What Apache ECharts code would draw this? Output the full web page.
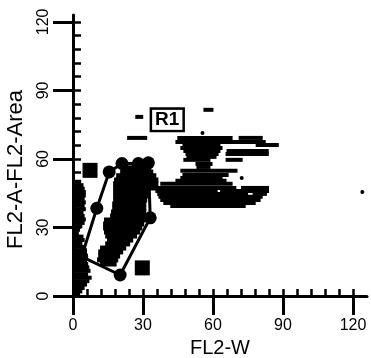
<!DOCTYPE html>
<html>
<head>
<meta charset="utf-8">
<script src="https://cdn.jsdelivr.net/npm/echarts@6/dist/echarts.min.js"></script>
<style>html,body{margin:0;padding:0;background:#fff}#c{width:371px;height:358px}</style>
</head>
<body>
<div id="c"></div>
<script>
// ---- data (FL2-W, FL2-A) ----
const xTickLabels = [0, 30, 60, 90, 120];
const yTickLabels = [0, 30, 60, 90, 120];
const minorStep = 6;

// events near the axis (row segments: [xStart, xEnd, y])
const axisColumnRows = [
  [0.5,3.5,50],[0.5,4.5,48.5],[0.5,5,47],[0.5,5.5,45.5],[0.5,5.5,44],[0.5,5,42.5],[0.5,5.5,41],
  [0.5,5,39.5],[0.5,5.5,38],[0.5,4.5,36.5],[0.5,5,35],[0.5,5.5,33.5],[0.5,5,32],[0.5,4,30.5],
  [0.5,3,29],[0.5,2.5,27.5],[0.5,4.5,26],[0.5,5,24.5],[0.5,4,23],[0.5,5.5,21.5],[0.5,6,20],
  [0.5,5,18.5],[0.5,5.5,17],[0.5,6,15.5],[0.5,6.5,14],[0.5,7,12.5],[0.5,7.5,11],[0.5,6.5,9.5],
  [0.5,8,8],[0.5,7,6.5],[0.5,6,5],[0.5,5,3.5],[0.5,4,2],[0.5,3,0.5]
];

// dense population inside the gate
const gatedRows = [
  [21.1,33.5,56.1],[20.2,34.4,54.3],[18.5,35.7,52.6],[17.6,36.6,50.8],[17.2,36.6,49.1],
  [17.2,35.7,47.3],[17.2,33.1,45.6],[17.2,32.3,43.8],[17.2,31.8,42.0],[16.8,31.4,40.3],
  [16.8,31.4,38.5],[16.3,31.4,36.8],[15.9,30.9,35.0],[13.3,30.9,33.3],[12.9,30.5,31.5],
  [12.9,29.7,29.8],[13.3,28.8,28.0],[13.8,27.5,26.3],[14.6,25.8,24.5],[13.8,24.5,22.8],
  [11.6,22.8,21.0],[10.8,21.5,19.3],[10.8,20.2,17.5],[10.3,19.4,15.8],[11.6,18.7,14.0]
];

// doublet streaks to the right
const streakRows = [
  [55.9,60.2,81.5],[26.7,30.1,78.4],
  [23.2,31.8,69.2],[44.7,68.4,69.2],[71,81.3,69.2],
  [43.9,82.6,67.4],
  [46.9,63.2,66.1],[78.3,88.2,66.1],
  [46,64.1,64.8],
  [47.3,63.2,63.5],[65.8,83.9,63.5],
  [48.2,62.4,62.2],[65.4,83.9,62.2],
  [48.6,61.5,60.9],
  [47.3,58.9,59.6],[65.4,72.7,59.6],
  [52.5,59.8,57.8],[52.9,58.9,56.5],
  [46,70.5,54.8],[46.9,66.7,53.0],
  [46,64.1,51.7],
  [43.9,65.8,50.4],[37.4,68.4,49.1],
  [34.4,70,47.3],[72,84,47.3],
  [35.3,62,46.0],[63,84,46.0],
  [36.1,75,44.7],[77,83.1,44.7],
  [36.6,81.3,43.4],[37.4,80.4,42.0],[38.7,78.3,40.7],[41.7,74,39.4]
];

const singleEvents = [[55.5,71.4],[72.3,51.7],[124,45.5]];
const squareMarks = [[7.3,55],[29.7,12.3]];

// gate R1 polygon vertices
const gateR1 = [[3.7,17.2],[10.2,38.4],[15.5,54.3],[21,58],[28,58],[32.3,58.3],[33.1,34.2],[20.2,9.2]];
const gateLabel = [[40.4,77.1,'R1']];

// ---- chart ----
const minorTicks = [];
for (let v = 0; v <= 120; v += minorStep) minorTicks.push(v);

const chart = echarts.init(document.getElementById('c'), null, {renderer:'canvas'});
const font = 'Liberation Sans, Arial, sans-serif';

function makeRender(h) {
  return function (params, api) {
    const a = api.coord([api.value(0), api.value(2)]);
    const b = api.coord([api.value(1), api.value(2)]);
    return {type:'rect', shape:{x:a[0], y:a[1]-h/2, width:Math.max(b[0]-a[0],2), height:h}, style:{fill:'#000'}};
  };
}
const segSeries = (d, h) => ({type:'custom', renderItem:makeRender(h), data:d, encode:{x:[0,1], y:2}, silent:true, z:2});

chart.setOption({
  animation:false,
  backgroundColor:'#fff',
  grid:{left:73, right:4, top:15, bottom:62, containLabel:false, outerBoundsMode:'none'},
  xAxis:[
    {type:'value', min:0, max:126, interval:30,
     axisLine:{lineStyle:{color:'#000', width:3}},
     axisTick:{customValues:xTickLabels, length:19, lineStyle:{color:'#000', width:3}},
     axisLabel:{customValues:xTickLabels, margin:22, color:'#000', fontSize:16, fontFamily:font},
     splitLine:{show:false},
     name:'FL2-W', nameLocation:'middle', nameGap:39,
     nameTextStyle:{color:'#000', fontSize:20, fontFamily:font}},
    {type:'value', min:0, max:126, interval:30,
     axisLine:{show:false},
     axisTick:{customValues:minorTicks, length:7, lineStyle:{color:'#000', width:2.5}},
     axisLabel:{show:false}, splitLine:{show:false}}
  ],
  yAxis:[
    {type:'value', min:0, max:123, interval:30,
     axisLine:{lineStyle:{color:'#000', width:3}},
     axisTick:{customValues:yTickLabels, length:20, lineStyle:{color:'#000', width:3}},
     axisLabel:{customValues:yTickLabels, rotate:90, margin:21, color:'#000', fontSize:16, fontFamily:font},
     splitLine:{show:false},
     name:'FL2-A-FL2-Area', nameLocation:'middle', nameGap:46,
     nameTextStyle:{color:'#000', fontSize:22, fontFamily:font, padding:[0,28,0,0]}},
    {type:'value', min:0, max:123, interval:30,
     axisLine:{show:false},
     axisTick:{customValues:minorTicks, length:8, lineStyle:{color:'#000', width:2.5}},
     axisLabel:{show:false}, splitLine:{show:false}}
  ],
  series:[
    segSeries(axisColumnRows, 4),
    segSeries(gatedRows, 5),
    segSeries(streakRows, 4),
    {type:'scatter', data:singleEvents, symbol:'circle', symbolSize:4, itemStyle:{color:'#000', opacity:1}, z:3},
    {type:'scatter', data:squareMarks, symbol:'rect', symbolSize:15, itemStyle:{color:'#000', opacity:1}, z:3},
    {type:'line', data:gateR1.concat([gateR1[0]]), symbol:'circle', symbolSize:13, showSymbol:true,
     lineStyle:{color:'#000', width:3}, itemStyle:{color:'#000', opacity:1}, z:4},
    {type:'scatter', data:gateLabel, symbolSize:0, z:5, itemStyle:{opacity:1},
     label:{show:true, position:'inside', formatter:(p)=>p.value[2], color:'#000', opacity:1, fontSize:19, fontWeight:'bold',
            fontFamily:font, backgroundColor:'#fff', borderColor:'#000', borderWidth:2.5, padding:[1,3,0,3]}}
  ]
});
</script>
</body>
</html>
